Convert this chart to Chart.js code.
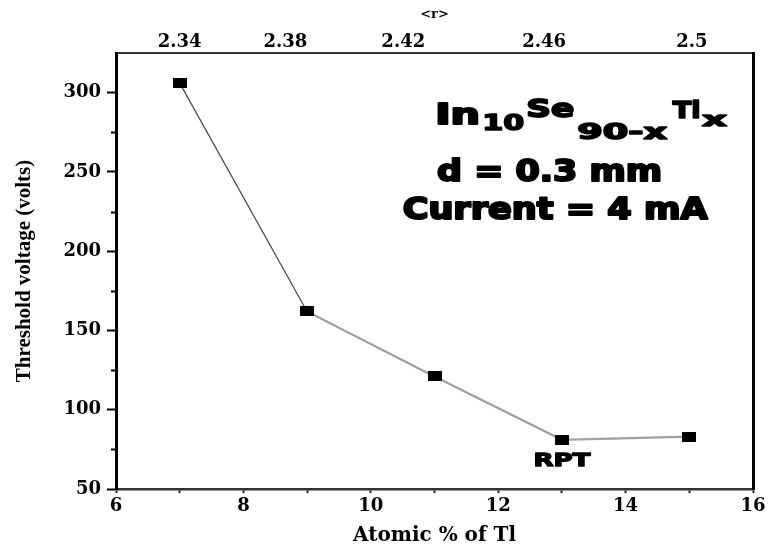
<!DOCTYPE html>
<html lang="en">
<head>
<meta charset="UTF-8">
<title>Threshold voltage - In10Se90-xTlx</title>
<script src="https://cdn.jsdelivr.net/npm/chart.js"></script>
<style>
  html, body { margin: 0; padding: 0; background: #fff; }
</style>
</head>
<body>
<canvas id="thresholdChart" width="770" height="550"></canvas>

<script>
// values
var tlPercent = [7, 9, 11, 13, 15];
var thresholdVolts = [306, 162, 121, 81, 83];

var xTicks = [6, 7, 8, 9, 10, 11, 12, 13, 14, 15, 16];
var yMajorTicks = [50, 100, 150, 200, 250, 300];
var yMinorTicks = [75, 125, 175, 225, 275];

// top axis <r>: labels and where they sit on the Tl scale
var rTickLabels = ['2.34', '2.38', '2.42', '2.46', '2.5'];
var rTickPositions = [7, 8.66, 10.51, 12.72, 15.04];

var serifBold = { family: 'DejaVu Serif', weight: 'bold', size: 18 };

// black rectangular marker
var marker = document.createElement('canvas');
marker.width = 14;
marker.height = 10;
var mctx = marker.getContext('2d');
mctx.fillStyle = '#000';
mctx.fillRect(0, 0, 14, 10);

// heavy wide text, scaled to a given width (the figure's fonts are wide)
function drawWide(ctx, text, x, y, size, width, align) {
  ctx.save();
  ctx.font = 'bold ' + size + 'px "DejaVu Sans"';
  var w = ctx.measureText(text).width;
  var sx = width / w;
  if (align === 'center') x = x - width / 2;
  ctx.translate(x, y);
  ctx.scale(sx, 1);
  ctx.textBaseline = 'alphabetic';
  ctx.textAlign = 'left';
  ctx.fillStyle = '#000';
  ctx.strokeStyle = '#000';
  ctx.lineWidth = size / 14;
  ctx.lineJoin = 'round';
  ctx.fillText(text, 0, 0);
  ctx.strokeText(text, 0, 0);
  ctx.restore();
}

var extras = {
  id: 'extras',
  afterDraw: function(chart) {
    var ctx = chart.ctx;
    var xs = chart.scales.x, ys = chart.scales.y;
    var left = chart.chartArea.left;

    // minor ticks on the left axis
    ctx.save();
    ctx.strokeStyle = '#000';
    ctx.lineWidth = 2;
    yMinorTicks.forEach(function(v) {
      var py = Math.round(ys.getPixelForValue(v)) + 0.5;
      ctx.beginPath();
      ctx.moveTo(left - 5, py);
      ctx.lineTo(left, py);
      ctx.stroke();
    });
    ctx.restore();

    function px(v) { return xs.getPixelForValue(v); }
    function py(v) { return ys.getPixelForValue(v); }

    // composition label In10Se90-xTlx
    drawWide(ctx, 'In', px(11.01), py(280.3), 29, 45);
    drawWide(ctx, '10', px(11.75), py(276.5), 21, 42);
    drawWide(ctx, 'Se', px(12.44), py(284.7), 25, 48);
    drawWide(ctx, '90-x', px(13.24), py(270.8), 22, 90);
    drawWide(ctx, 'Tl', px(14.74), py(284), 23, 28);
    drawWide(ctx, 'x', px(15.2), py(279), 20, 25);

    drawWide(ctx, 'd = 0.3 mm', px(11.04), py(244.3), 31, 225);
    drawWide(ctx, 'Current = 4 mA', px(10.5), py(220.3), 31, 305);

    drawWide(ctx, 'RPT', px(13), py(64.5), 18, 57, 'center');
  }
};

new Chart(document.getElementById('thresholdChart'), {
  type: 'line',
  data: {
    datasets: [{
      data: tlPercent.map(function(x, i) { return { x: x, y: thresholdVolts[i] }; }),
      borderColor: '#a0a0a0',
      borderWidth: 2.2,
      pointStyle: marker,
      pointBackgroundColor: '#000',
      tension: 0,
      segment: {
        borderColor: function(c) { return c.p0DataIndex === 0 ? '#444' : '#a0a0a0'; },
        borderWidth: function(c) { return c.p0DataIndex === 0 ? 1.2 : 2.2; }
      }
    }]
  },
  options: {
    responsive: false,
    animation: false,
    layout: { padding: { left: 0, right: 17, top: 0, bottom: 0 } },
    plugins: {
      legend: { display: false },
      tooltip: { enabled: false }
    },
    scales: {
      x: {
        type: 'linear',
        position: 'bottom',
        min: 6,
        max: 16,
        afterBuildTicks: function(s) { s.ticks = xTicks.map(function(v) { return { value: v }; }); },
        ticks: {
          callback: function(v) { return v % 2 === 0 ? String(v) : ''; },
          font: serifBold,
          color: '#000',
          padding: 3,
          maxRotation: 0,
          autoSkip: false
        },
        grid: { drawOnChartArea: false, tickLength: 4, tickColor: '#222', tickWidth: 2 },
        border: { color: '#333', width: 2.5 },
        title: {
          display: true,
          text: 'Atomic % of Tl',
          font: { family: 'DejaVu Serif', weight: 'bold', size: 20 },
          color: '#000',
          padding: { top: 0, bottom: 2 }
        },
        afterFit: function(s) { s.height = 61; }
      },
      xTop: {
        type: 'linear',
        position: 'top',
        min: 6,
        max: 16,
        afterBuildTicks: function(s) { s.ticks = rTickPositions.map(function(v) { return { value: v }; }); },
        ticks: {
          callback: function(v, i) { return rTickLabels[i]; },
          font: serifBold,
          color: '#000',
          padding: 0,
          maxRotation: 0,
          autoSkip: false
        },
        grid: { drawOnChartArea: false, drawTicks: false },
        border: { color: '#333', width: 2 },
        title: {
          display: true,
          text: '<r>',
          font: { family: 'DejaVu Serif', weight: 'bold', size: 13 },
          color: '#000',
          padding: { top: 7, bottom: 2 }
        },
        afterFit: function(s) { s.height = 53; }
      },
      y: {
        type: 'linear',
        position: 'left',
        min: 50,
        max: 325,
        afterBuildTicks: function(s) { s.ticks = yMajorTicks.map(function(v) { return { value: v }; }); },
        ticks: {
          font: serifBold,
          color: '#000',
          padding: 6
        },
        grid: { drawOnChartArea: false, tickLength: 9, tickColor: '#000', tickWidth: 2 },
        border: { color: '#000', width: 3 },
        title: {
          display: true,
          text: 'Threshold voltage (volts)',
          font: { family: 'Liberation Serif', weight: 'bold', size: 21 },
          color: '#000',
          padding: { top: 12, bottom: 4 }
        },
        afterFit: function(s) { s.width = 116; }
      },
      yRight: {
        type: 'linear',
        position: 'right',
        min: 50,
        max: 325,
        ticks: { display: false },
        grid: { drawOnChartArea: false, drawTicks: false },
        border: { color: '#000', width: 3 },
        afterFit: function(s) { s.width = 0; }
      }
    }
  },
  plugins: [extras]
});
</script>
</body>
</html>
